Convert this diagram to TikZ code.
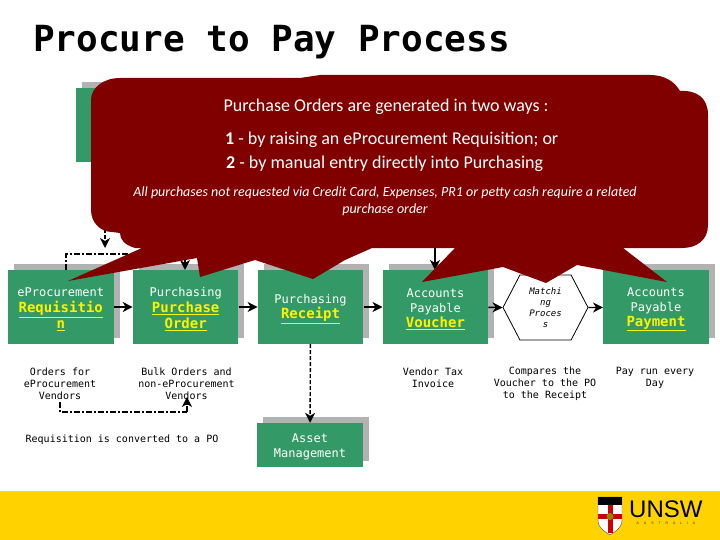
\documentclass[tikz,border=0pt]{standalone}
\usepackage{fontspec}
\usepackage{xcolor}
\setmainfont{DejaVu Sans Mono}
\newfontfamily\calloutfont{Carlito}
\newfontfamily\logofont{Liberation Sans}
\newfontfamily\logosmall[LetterSpace=140]{Liberation Sans}
\usetikzlibrary{arrows.meta, positioning, shadows, shapes.symbols}
\definecolor{boxgreen}{RGB}{51,153,102}
\definecolor{shadowgrey}{RGB}{178,178,178}
\definecolor{calloutred}{RGB}{128,0,0}
\definecolor{bandyellow}{RGB}{255,210,0}
\newcommand{\boxtitle}[1]{{\fontsize{14}{16}\selectfont\bfseries\color{yellow}\underline{#1}}}
\newcommand{\boxhead}[1]{\rule{0pt}{13pt}#1}
\tikzset{
    block/.style={
        rectangle,
        fill=boxgreen,
        text=white,
        align=center,
        inner sep=0pt,
        minimum width=105.5pt,
        minimum height=74pt,
        font=\fontsize{12}{15}\selectfont,
        copy shadow={shadow xshift=6pt, shadow yshift=6pt, fill=shadowgrey, draw=none}
    },
    hexblock/.style={
        signal,
        signal to=east and west,
        signal pointer angle=125,
        draw=black,
        thick,
        fill=white,
        align=center,
        inner sep=0pt,
        minimum width=85pt,
        minimum height=65pt,
        font=\fontsize{9}{11}\selectfont\itshape
    },
    note/.style={
        align=center,
        inner sep=0pt,
        font=\fontsize{10}{12}\selectfont
    },
    connection/.style={
        draw=black,
        line width=1.4pt,
        -{Stealth[length=10pt, width=10pt, inset=3pt]}
    },
    dashlink/.style={
        connection,
        dash pattern=on 4pt off 2pt
    },
    dotlink/.style={
        draw=black,
        line width=1.4pt,
        dash pattern=on 6pt off 2pt on 2pt off 2pt
    },
    callouttext/.style={
        text=white,
        inner sep=0pt,
        font=\calloutfont\fontsize{18}{21}\selectfont
    }
}
\begin{document}
\begin{tikzpicture}[x=1pt, y=-1pt, node distance=19pt]
\useasboundingbox (0,0) rectangle (720,540);
\fill[bandyellow] (0,491) rectangle (720,540);
\node[anchor=west, inner sep=0pt, font=\fontsize{36}{40}\selectfont\bfseries] (title) at (33,42) {Procure to Pay Process};

% Process row
\node[block] (top) at (129,125.5) {};
\node[block] (req) at (60.75,307) {\boxhead{eProcurement}\\[1pt]\boxtitle{Requisitio}\\[1pt]\boxtitle{n}};
\node[block, right=of req] (po) {\boxhead{Purchasing}\\[1pt]\boxtitle{Purchase}\\[1pt]\boxtitle{Order}};
\node[block, right=of po] (receipt) {\boxhead{Purchasing}\\\boxtitle{Receipt}};
\node[block, right=of receipt] (voucher) {\boxhead{Accounts}\\Payable\\\boxtitle{Voucher}};
\node[hexblock] (match) at (545.5,307.5) {Matchi\\ng\\Proces\\s};
\node[block] (payment) at (656,307) {\boxhead{Accounts}\\Payable\\\boxtitle{Payment}};
\node[block, minimum height=44pt] (asset) at (310,445) {\boxhead{Asset}\\Management};

% Notes under the row
\node[note] (ordersnote) at (60,384) {Orders for\\eProcurement\\Vendors};
\node[note] (bulknote) at (186.5,384) {Bulk Orders and\\non-eProcurement\\Vendors};
\node[note] (taxnote) at (433,378) {Vendor Tax\\Invoice};
\node[note] (comparenote) at (545,384) {Compares the\\Voucher to the PO\\to the Receipt};
\node[note] (paynote) at (655,378) {Pay run every\\Day};
\node[note] (convertnote) at (122,440) {Requisition is converted to a PO};

\coordinate (topdrop) at (105,163);
\coordinate (droptip) at (105,248);
\coordinate (reqtop) at (66,270);
\coordinate (potop) at (185,270);
\coordinate (vouchdrop) at (435,220);
\coordinate (vouchtop) at (435,270);
\coordinate (ordersdrop) at (60,402);
\coordinate (bulkdrop) at (187,397);

\draw[connection] (req) -- (po);
\draw[connection] (po) -- (receipt);
\draw[connection] (receipt) -- (voucher);
\draw[connection] (voucher) -- (match.west);
\draw[connection] (match.east) -- (payment);
\draw[dashlink] (receipt) -- (asset);
\draw[dashlink] (topdrop) -- (droptip);
\draw[connection] (vouchdrop) -- (vouchtop);
\draw[dotlink] (reqtop) |- (potop |- 0,254);
\draw[connection] (185,254) -- (potop);
\draw[dotlink] (ordersdrop) |- (187,412);
\draw[connection, dash pattern=on 6pt off 2pt on 2pt off 2pt] (187,412) -- (bulkdrop);

% Callouts over the row
\fill[calloutred] (120,78) -- (300,78) -- (320,75) -- (650,75)
    .. controls (665,75) and (675,82) .. (680,91)
    .. controls (697,90) and (708,98) .. (708,115)
    -- (708,225) .. controls (708,240) and (697,248) .. (682,248)
    -- (623,248) -- (667,282) -- (577,265) -- (546,283) -- (503,267) -- (422,282)
    -- (455,248) -- (372,248) -- (345,260) -- (313,279) -- (255,260) -- (200,277)
    -- (197,258) -- (68,281) -- (142,248) -- (135,248)
    .. controls (125,245) and (120,240) .. (120,233)
    -- (112,232) .. controls (100,232) and (91,222) .. (91,210)
    -- (91,100) .. controls (91,88) and (103,78) .. (120,78) -- cycle;
\node[callouttext] (ways) at (386,107) {Purchase Orders are generated in two ways :};
\node[callouttext, anchor=west] (wayone) at (225,140) {\textbf{1} - by raising an eProcurement Requisition; or};
\node[callouttext, anchor=west] (waytwo) at (226,164) {\textbf{2} - by manual entry directly into Purchasing};
\node[callouttext, align=center, font=\calloutfont\fontsize{14}{17}\selectfont\itshape] (allnote) at (385,201) {All purchases not requested via Credit Card, Expenses, PR1 or petty cash require a related\\purchase order};

% Logo
\node[anchor=west, inner sep=0pt, font=\logofont\fontsize{24}{26}\selectfont] (unsw) at (629,509) {UNSW};
\node[anchor=north, inner sep=0pt, font=\logosmall\fontsize{3.5}{4}\selectfont, text=black!80] (aus) at (666,522) {AUSTRALIA};
\fill[white, draw=black!70] (598,497) -- (622,497) -- (622,520) .. controls (622,529) and (614,532) .. (610,535) .. controls (606,532) and (598,529) .. (598,520) -- cycle;
\fill[black] (598,497) rectangle (622,505);
\fill[red!80!black] (607.5,505) rectangle (612.5,533);
\fill[red!80!black] (598,514) rectangle (622,519);
\fill[bandyellow!60!black] (610,516.5) circle (3.5pt);
\end{tikzpicture}
\end{document}
